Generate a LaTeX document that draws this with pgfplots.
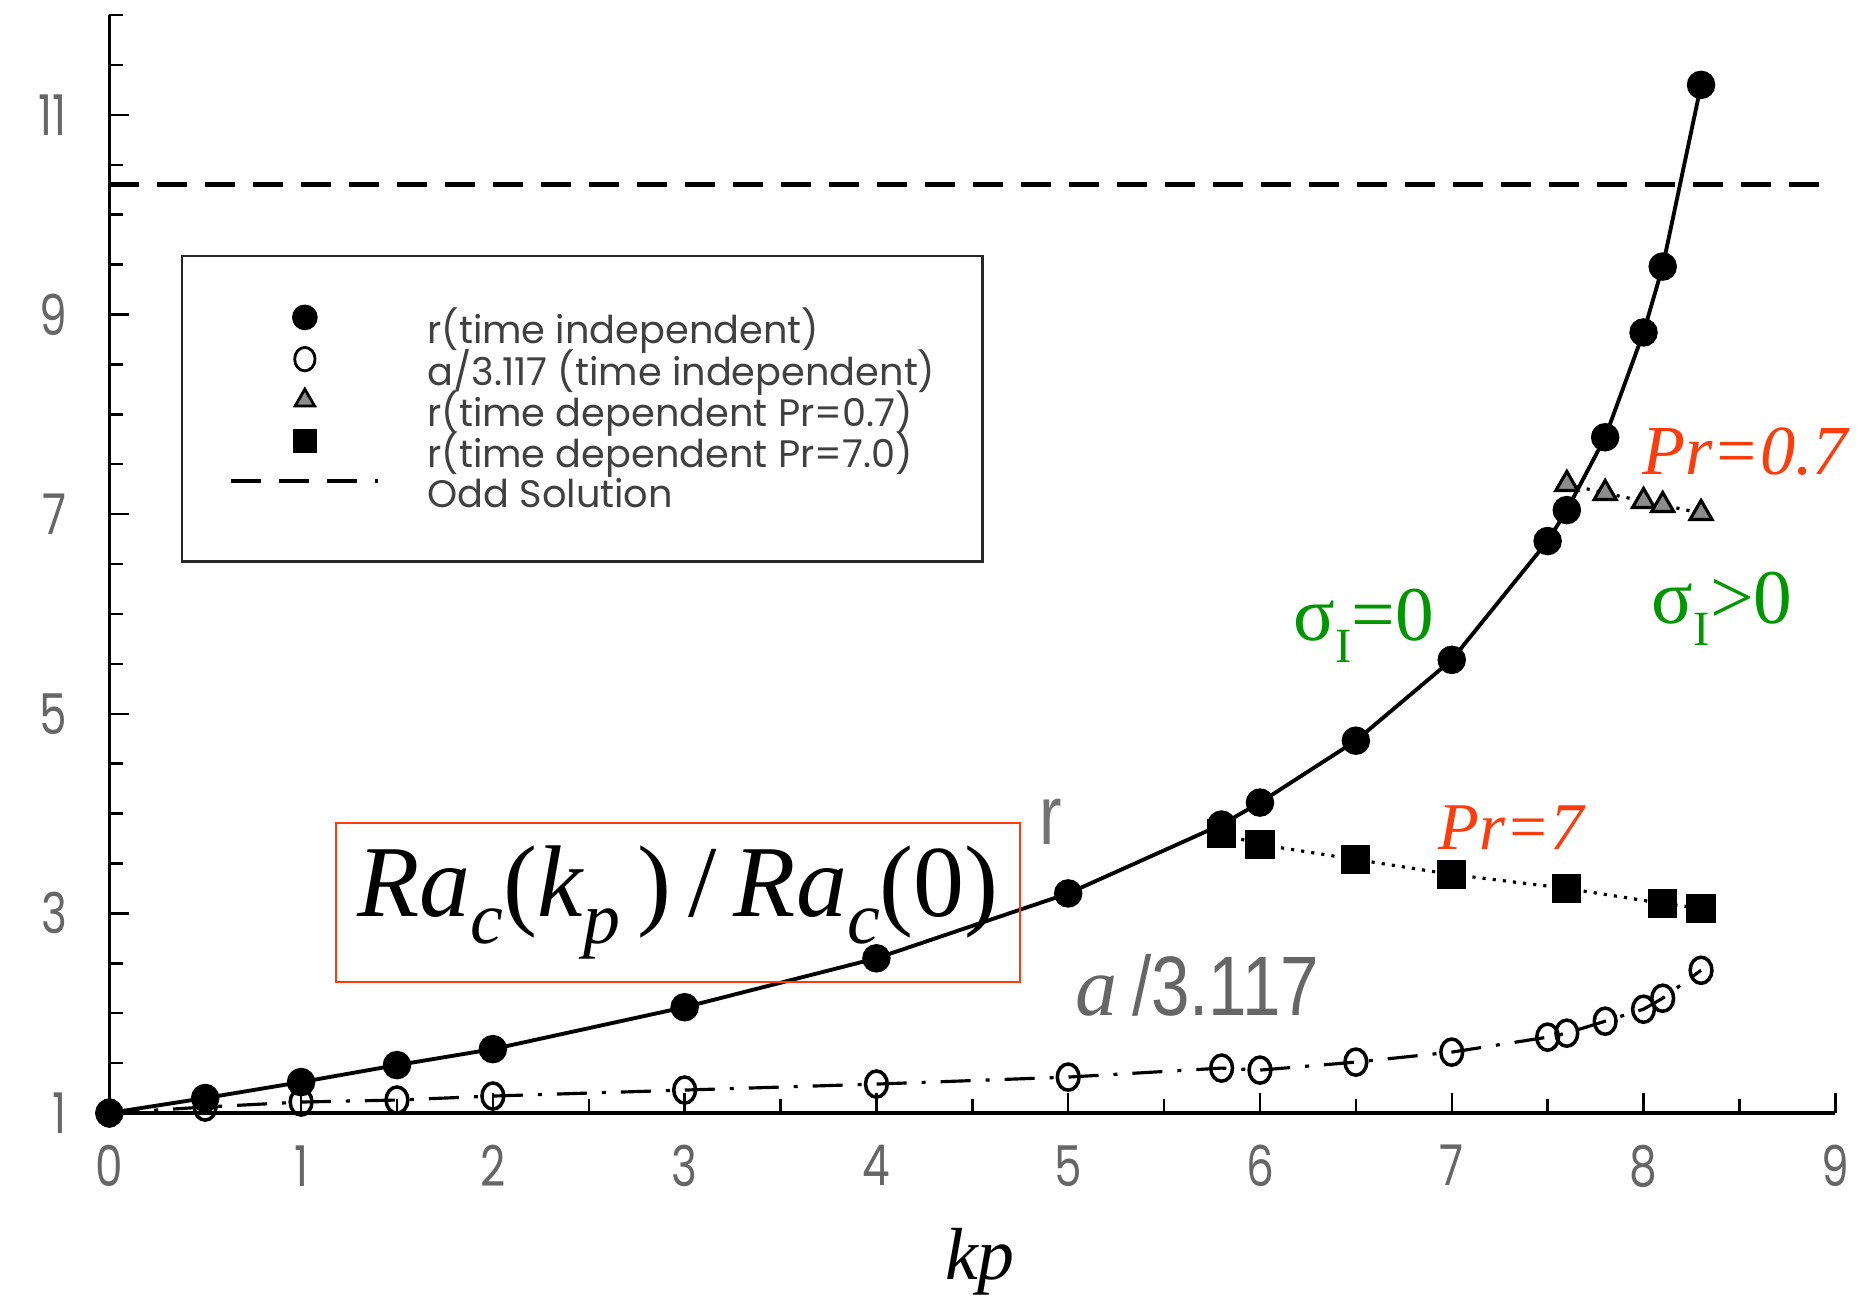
\documentclass[border=0pt]{standalone}
\usepackage{pgfplots}
\pgfplotsset{compat=1.18}
\usepackage{fontspec}
\setmainfont{Liberation Serif}
\newfontfamily\geofont{Poppins}
\newfontfamily\plainsans{Liberation Sans}
\definecolor{annred}{RGB}{252,60,10}
\definecolor{anngreen}{RGB}{0,150,0}

% r, time independent (filled circles)
\pgfplotstableread{
kp   r
0    1.00
0.5  1.15
1    1.31
1.5  1.48
2    1.64
3    2.06
4    2.55
5    3.20
5.8  3.89
6    4.11
6.5  4.73
7    5.54
7.5  6.73
7.6  7.04
7.8  7.77
8.0  8.82
8.1  9.48
8.3  11.30
}\rindep
% a/3.117, time independent (open circles)
\pgfplotstableread{
kp   a
0    1.00
0.5  1.06
1    1.11
1.5  1.13
2    1.17
3    1.23
4    1.29
5    1.36
5.8  1.45
6    1.43
6.5  1.51
7    1.61
7.5  1.76
7.6  1.80
7.8  1.92
8.0  2.04
8.1  2.15
8.3  2.43
}\aindep
% r, time dependent, Pr = 0.7 (triangles)
\pgfplotstableread{
kp   r
7.6  7.30
7.8  7.21
8.0  7.13
8.1  7.09
8.3  7.01
}\rlowpr
% r, time dependent, Pr = 7.0 (squares)
\pgfplotstableread{
kp   r
5.8  3.80
6.0  3.69
6.5  3.54
7.0  3.39
7.6  3.25
8.1  3.10
8.3  3.05
}\rhighpr

\newcommand{\narrowtick}[1]{\scalebox{0.78}[1]{#1}}

\begin{document}
\begin{tikzpicture}
\path[use as bounding box] (-1.093cm,-1.82cm) rectangle (17.537cm,11.13cm);
\begin{axis}[
  at={(0,0)}, anchor=south west,
  scale only axis, width=17.26cm, height=10.98cm,
  xmin=0, xmax=9, ymin=1, ymax=12,
  axis lines*=left,
  axis line style={black, line width=1pt, -},
  xtick={0,...,9}, minor xtick={0,0.5,...,9},
  ytick={1,3,5,7,9,11}, minor ytick={1,1.5,...,12},
  tick align=inside,
  major tick length=0.2cm, minor tick length=0.14cm,
  tick style={black, line width=0.7pt},
  /pgf/number format/assume math mode=true,
  xticklabel={\narrowtick{\pgfmathprintnumber{\tick}}},
  yticklabel={\narrowtick{\pgfmathprintnumber{\tick}}},
  xticklabel style={font=\geofont\fontsize{16}{16}\selectfont, text=black!60, yshift=-0.2cm},
  yticklabel style={font=\geofont\fontsize{16}{16}\selectfont, text=black!60, xshift=-0.3cm},
  clip=false,
  legend cell align=left,
  legend style={
    at={(axis cs:0.374,9.60)}, anchor=north west,
    draw=black!85, line width=0.7pt,
    inner xsep=0.47cm, inner ysep=0.5cm,
    column sep=0.47cm, row sep=0pt,
    font=\geofont\fontsize{10.9}{12}\selectfont, text=black!75,
    nodes={inner sep=0pt, text height=0.36cm, text depth=0.04cm},
  },
  markimg/.style={legend image code/.code={\draw[##1] plot coordinates {(0.735cm,0.1cm)};}},
  lineimg/.style={legend image code/.code={\draw[##1] (0cm,0.1cm) -- (1.47cm,0.1cm);}},
]

% legend entries
\addlegendimage{markimg, black, mark=*, mark size=3.3pt}
\addlegendentry{r(time independent)}
\addlegendimage{markimg, black, mark=o, line width=0.8pt, mark size=2.9pt, mark options={yscale=1.15}}
\addlegendentry{a/3.117 (time independent)}
\addlegendimage{markimg, black, mark=triangle*, mark size=3.2pt, mark options={fill=black!45, line width=0.8pt}}
\addlegendentry{r(time dependent Pr=0.7)}
\addlegendimage{markimg, black, mark=square*, mark size=3.1pt}
\addlegendentry{r(time dependent Pr=7.0)}
\addlegendimage{lineimg, black, line width=1.2pt, dash pattern=on 0.3cm off 0.18cm}
\addlegendentry{Odd Solution}

% odd solution
\addplot[forget plot, black, line width=1.3pt, dash pattern=on 0.3cm off 0.18cm]
  coordinates {(0,10.3) (9,10.3)};

% a/3.117
\addplot[forget plot, black, line width=0.9pt,
  dash pattern=on 0.3cm off 0.15cm on 0.04cm off 0.15cm,
  mark=o, mark size=3.1pt, mark options={solid, yscale=1.2, line width=1pt}]
  table[x=kp, y=a] {\aindep};

% r, time dependent
\addplot[forget plot, black, line width=0.9pt, dotted,
  mark=square*, mark size=3.7pt, mark options={solid}]
  table[x=kp, y=r] {\rhighpr};
\addplot[forget plot, black, line width=0.9pt, dotted,
  mark=triangle*, mark size=3.6pt, mark options={solid, fill=black!45, line width=0.9pt}]
  table[x=kp, y=r] {\rlowpr};

% r, time independent
\addplot[forget plot, black, line width=1.1pt, mark=*, mark size=3.5pt]
  table[x=kp, y=r] {\rindep};

% annotations
\node[font=\fontsize{20}{24}\selectfont\itshape, text=annred] at (axis cs:8.53,7.63) {Pr=0.7};
\node[font=\fontsize{19}{24}\selectfont\itshape, text=annred] at (axis cs:7.31,3.86) {Pr=7};
\node[font=\fontsize{22}{24}\selectfont, text=anngreen] at (axis cs:6.54,5.88)
  {σ\raisebox{-0.28em}{\fontsize{14}{14}\selectfont I}=0};
\node[font=\fontsize{22}{24}\selectfont, text=anngreen] at (axis cs:8.41,6.05)
  {σ\raisebox{-0.28em}{\fontsize{14}{14}\selectfont I}>0};
\node[font=\plainsans\fontsize{24}{24}\selectfont, text=black!55] at (axis cs:4.91,3.92) {\scalebox{0.8}[1]{r}};
\node[anchor=base west, font=\fontsize{24}{24}\selectfont, text=black!60] at (axis cs:4.975,1.98)
  {\textit{a}\,\scalebox{0.82}[1]{\plainsans /3.117}};
\node[draw=annred, line width=0.6pt, minimum width=6.84cm, minimum height=1.59cm, inner sep=0pt,
  font=\fontsize{29}{29}\selectfont] at (axis cs:2.965,3.11)
  {\textit{Ra}\raisebox{-0.26em}{\fontsize{21}{21}\selectfont\textit{c}}(\textit{k}\raisebox{-0.26em}{\fontsize{21}{21}\selectfont\textit{p}}\,)\,/\,\textit{Ra}\raisebox{-0.26em}{\fontsize{21}{21}\selectfont\textit{c}}(0)};
\node[font=\fontsize{21}{24}\selectfont\itshape] at (axis cs:4.54,-0.49) {kp};
\end{axis}
\end{tikzpicture}
\end{document}
